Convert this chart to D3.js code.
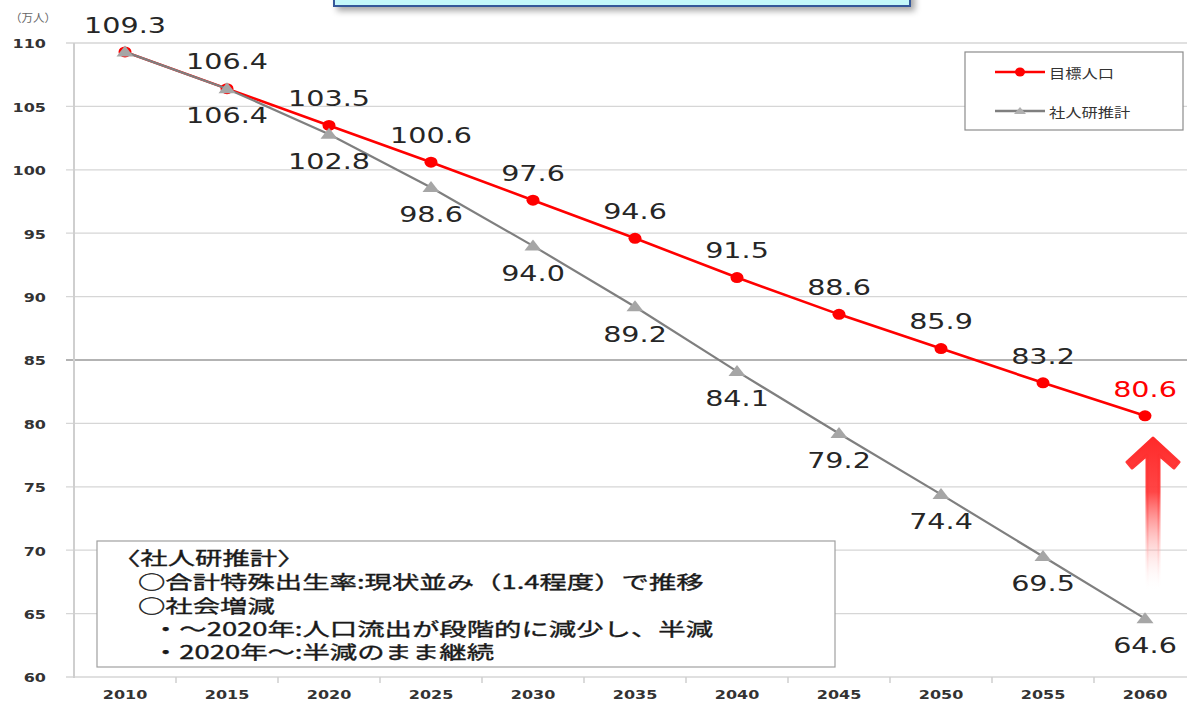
<!DOCTYPE html>
<html lang="ja">
<head>
<meta charset="utf-8">
<script src="https://cdn.jsdelivr.net/npm/d3@7/dist/d3.min.js"></script>
<style>
  html, body { margin: 0; padding: 0; background: #fff; }
  svg { display: block; }
</style>
</head>
<body>
<svg id="chart" width="1187" height="704"></svg>
<script>
// ---- data ----
const years = ["2010", "2015", "2020", "2025", "2030", "2035", "2040", "2045", "2050", "2055", "2060"];
const targetPop = [109.3, 106.4, 103.5, 100.6, 97.6, 94.6, 91.5, 88.6, 85.9, 83.2, 80.6];   // 目標人口
const ipssPop   = [109.3, 106.4, 102.8, 98.6, 94.0, 89.2, 84.1, 79.2, 74.4, 69.5, 64.6];    // 社人研推計
const yTicks = [60, 65, 70, 75, 80, 85, 90, 95, 100, 105, 110];
const seriesNames = ["目標人口", "社人研推計"];
const noteLines = [
  "〈社人研推計〉",
  "○合計特殊出生率:現状並み（1.4程度）で推移",
  "○社会増減",
  "・～2020年:人口流出が段階的に減少し、半減",
  "・2020年～:半減のまま継続"
];
const unitLabel = "（万人）";

// ---- setup ----
const svg = d3.select("#chart");
const W = 1187, H = 704;
const STRETCH = 1.28;   // wide lettering used throughout the chart
const NUM_FONT = "'DejaVu Sans', Verdana, sans-serif";
const JP_FONT = "'Noto Sans CJK JP', 'Noto Sans', sans-serif";

const x = d3.scaleBand().domain(years).range([74, 1196]).padding(0);
const cx = d => x(d) + x.bandwidth() / 2;
const y = d3.scaleLinear().domain([60, 110]).range([677, 43]);

const defs = svg.append("defs");
const shadow = defs.append("filter").attr("id", "boxShadow")
  .attr("x", "-10%").attr("y", "-50%").attr("width", "130%").attr("height", "250%");
shadow.append("feDropShadow").attr("dx", 4).attr("dy", 4).attr("stdDeviation", 3)
  .attr("flood-color", "#000").attr("flood-opacity", 0.35);

const grad = defs.append("linearGradient").attr("id", "arrowGrad")
  .attr("gradientUnits", "userSpaceOnUse")
  .attr("x1", 0).attr("y1", 438).attr("x2", 0).attr("y2", 592);
grad.append("stop").attr("offset", 0).attr("stop-color", "#ff2a2a").attr("stop-opacity", 1);
grad.append("stop").attr("offset", 0.35).attr("stop-color", "#ff3c3c").attr("stop-opacity", 0.95);
grad.append("stop").attr("offset", 1).attr("stop-color", "#ffffff").attr("stop-opacity", 0);

// helper: stretched text
function sText(g, tx, ty, str, opts) {
  const t = g.append("text")
    .attr("transform", `translate(${tx},${ty}) scale(${opts.sx || STRETCH},1)`)
    .attr("text-anchor", opts.anchor || "middle")
    .attr("dominant-baseline", "central")
    .style("font-family", opts.family || NUM_FONT)
    .style("font-size", opts.size + "px")
    .style("font-weight", opts.weight || "normal")
    .attr("fill", opts.fill || "#262626")
    .text(str);
  return t;
}

// ---- title box (top, partially off canvas) ----
svg.append("rect")
  .attr("x", 334).attr("y", -30).attr("width", 576).attr("height", 36)
  .attr("fill", "#c4f8fa").attr("stroke", "#35589a").attr("stroke-width", 2)
  .attr("filter", "url(#boxShadow)");

// ---- gridlines ----
const grid = svg.append("g");
grid.selectAll("line").data(yTicks).join("line")
  .attr("x1", 66).attr("x2", W)
  .attr("y1", d => y(d)).attr("y2", d => y(d))
  .attr("stroke", d => d === 85 ? "#9a9a9a" : "#d6d6d6")
  .attr("stroke-width", 1.3);

// y axis line
svg.append("line")
  .attr("x1", 74).attr("x2", 74).attr("y1", y(110)).attr("y2", y(60) + 1)
  .attr("stroke", "#cfcfcf").attr("stroke-width", 2);

// x axis ticks at category boundaries
const bounds = years.map(d => x(d)).concat([x(years[years.length - 1]) + x.bandwidth()]);
svg.append("g").selectAll("line").data(bounds.slice(1)).join("line")
  .attr("x1", d => d).attr("x2", d => d)
  .attr("y1", y(60)).attr("y2", y(60) + 6)
  .attr("stroke", "#cfcfcf").attr("stroke-width", 1.5);

// tick labels
const yl = svg.append("g");
yTicks.forEach(v => sText(yl, 46, y(v) + 1, String(v), { size: 12.5, weight: "bold", anchor: "end", fill: "#333" }));
const xl = svg.append("g");
years.forEach(yr => sText(xl, cx(yr), 695, yr, { size: 12.5, weight: "bold", fill: "#333" }));

// unit label
sText(svg, 10, 17, unitLabel, { size: 11, anchor: "start", family: JP_FONT, fill: "#666", sx: 1.05 });

// ---- arrow ----
svg.append("path")
  .attr("d", "M1153,438 L1179,462 L1174,468 L1159,455 L1159,592 L1147,592 L1147,455 L1132,468 L1127,462 Z")
  .attr("fill", "url(#arrowGrad)")
  .attr("stroke", "url(#arrowGrad)").attr("stroke-width", 3).attr("stroke-linejoin", "round");

// ---- series ----
const lineGen = d3.line().x((d, i) => cx(years[i])).y(d => y(d));

// target (red)
svg.append("path").datum(targetPop)
  .attr("d", lineGen).attr("fill", "none")
  .attr("stroke", "#ff0000").attr("stroke-width", 2.6);
svg.append("g").selectAll("ellipse").data(targetPop).join("ellipse")
  .attr("cx", (d, i) => cx(years[i])).attr("cy", d => y(d))
  .attr("rx", 6.5).attr("ry", 5.5).attr("fill", "#ff0000");

// projection (gray)
svg.append("path").datum(ipssPop)
  .attr("d", lineGen).attr("fill", "none")
  .attr("stroke", "#7f7f7f").attr("stroke-width", 2.2);
const tri = (px, py) => `M${px},${py - 6.5} L${px + 8.5},${py + 4.5} L${px - 8.5},${py + 4.5} Z`;
svg.append("g").selectAll("path").data(ipssPop).join("path")
  .attr("d", (d, i) => tri(cx(years[i]), y(d)))
  .attr("fill", "#a6a6a6");

// ---- value labels ----
const lbl = svg.append("g");
targetPop.forEach((v, i) => {
  const last = i === targetPop.length - 1;
  sText(lbl, cx(years[i]), y(v) - 27, v.toFixed(1), { size: 22, sx: 1.3, fill: last ? "#ff0000" : "#262626" });
});
ipssPop.forEach((v, i) => {
  if (i === 0) return;  // shared starting value already labelled
  sText(lbl, cx(years[i]), y(v) + 27, v.toFixed(1), { size: 22, sx: 1.3 });
});

// ---- legend ----
const lg = svg.append("g");
lg.append("rect").attr("x", 965).attr("y", 52).attr("width", 218).attr("height", 78)
  .attr("fill", "#fff").attr("stroke", "#8c8c8c").attr("stroke-width", 1.2);
lg.append("line").attr("x1", 995).attr("x2", 1045).attr("y1", 72).attr("y2", 72)
  .attr("stroke", "#ff0000").attr("stroke-width", 2.6);
lg.append("ellipse").attr("cx", 1020).attr("cy", 72).attr("rx", 5).attr("ry", 4.5).attr("fill", "#ff0000");
lg.append("line").attr("x1", 995).attr("x2", 1045).attr("y1", 111).attr("y2", 111)
  .attr("stroke", "#7f7f7f").attr("stroke-width", 2.6);
lg.append("path").attr("d", "M1020,107 L1026,114 L1014,114 Z").attr("fill", "#b0b0b0");
sText(lg, 1049, 72, seriesNames[0], { size: 13, anchor: "start", family: JP_FONT, fill: "#333", sx: 1.25 });
sText(lg, 1049, 111, seriesNames[1], { size: 13, anchor: "start", family: JP_FONT, fill: "#333", sx: 1.25 });

// ---- note box ----
const nb = svg.append("g");
nb.append("rect").attr("x", 97).attr("y", 541).attr("width", 738).attr("height", 126)
  .attr("fill", "#fff").attr("stroke", "#a0a0a0").attr("stroke-width", 1.2);
const NOTE_SX = 1.48;
const noteX = [113, 138, 138, 152, 152];
const noteY = [557, 581, 605, 628, 651];
const noteText = nb.append("text")
  .attr("transform", `translate(0,0) scale(${NOTE_SX},1)`)
  .style("font-family", JP_FONT)
  .style("font-size", "18.5px")
  .attr("fill", "#1a1a1a")
  .attr("stroke", "#1a1a1a").attr("stroke-width", 0.35);
noteLines.forEach((s, i) => noteText.append("tspan")
  .attr("x", noteX[i] / NOTE_SX).attr("y", noteY[i])
  .attr("dominant-baseline", "central")
  .text(s));
</script>
</body>
</html>
